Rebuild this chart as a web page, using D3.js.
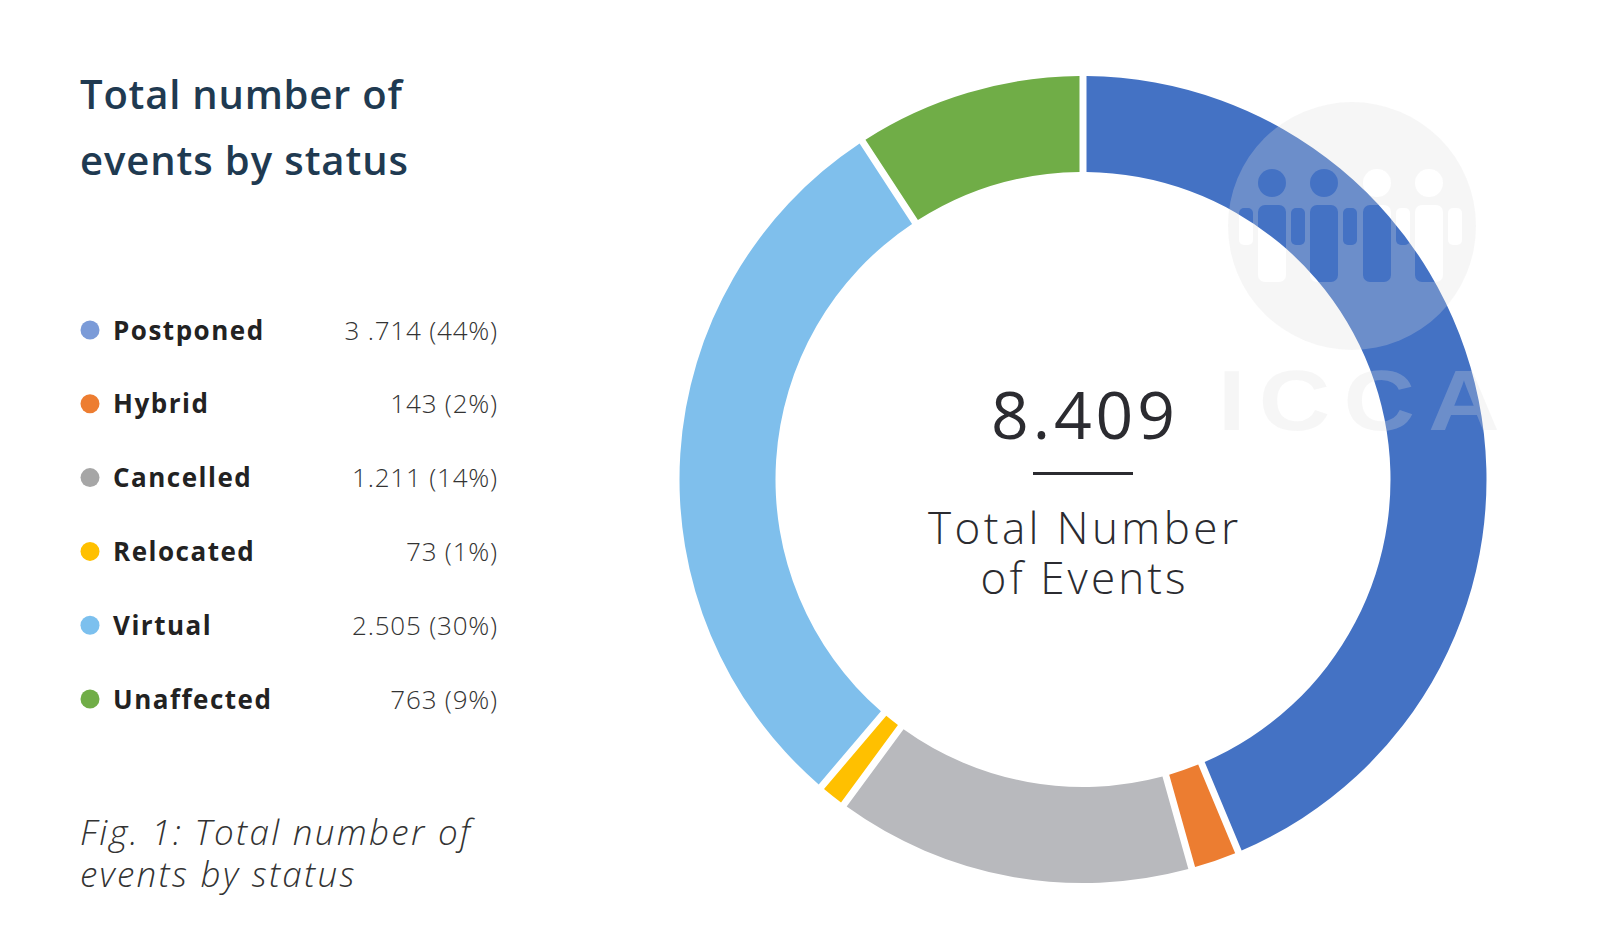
<!DOCTYPE html>
<html>
<head>
<meta charset="utf-8">
<script src="https://cdn.jsdelivr.net/npm/d3@7"></script>
<style>
  html, body { margin: 0; padding: 0; background: #ffffff; }
  svg { display: block; font-family: "Open Sans", "Noto Sans", sans-serif; }
</style>
</head>
<body>
<svg id="chart" width="1600" height="946"></svg>
<script>
// ---- data ----
const categories = ["Postponed", "Hybrid", "Cancelled", "Relocated", "Virtual", "Unaffected"];
const values = [3714, 143, 1211, 73, 2505, 763];
const valueLabels = ["3 .714 (44%)", "143 (2%)", "1.211 (14%)", "73 (1%)", "2.505 (30%)", "763 (9%)"];
const ringColors = ["#4472c4", "#ec7d31", "#b8b9bd", "#ffc000", "#7fbfec", "#70ad47"];
const dotColors = ["#7b9bd8", "#ed7d31", "#a6a6a6", "#ffc000", "#7cc0ee", "#70ad47"];
const titleLines = ["Total number of", "events by status"];
const captionLines = ["Fig. 1: Total number of", "events by status"];
const centerLabelLines = ["Total Number", "of Events"];

const svg = d3.select("#chart");

// ---- title ----
svg.append("g").selectAll("text").data(titleLines).join("text")
  .attr("x", 80)
  .attr("y", (d, i) => 109 + i * 66)
  .attr("font-size", 40)
  .attr("font-weight", 600)
  .attr("fill", "#1f3a51")
  .attr("textLength", (d, i) => i === 0 ? 322 : 328)
  .attr("lengthAdjust", "spacing")
  .text(d => d);

// ---- legend ----
const yLegend = d3.scalePoint().domain(categories).range([330, 699]);
const legend = svg.append("g").selectAll("g").data(categories).join("g")
  .attr("transform", d => `translate(0,${yLegend(d)})`);
legend.append("circle")
  .attr("cx", 90).attr("cy", 0).attr("r", 9.5)
  .attr("fill", (d, i) => dotColors[i]);
legend.append("text")
  .attr("x", 113).attr("y", 9.5)
  .attr("font-size", 26).attr("font-weight", 700).attr("fill", "#222222")
  .attr("letter-spacing", 1.5)
  .text(d => d);
legend.append("text")
  .attr("x", 498).attr("y", 9.5)
  .attr("text-anchor", "end")
  .attr("font-size", 26).attr("font-weight", 300).attr("fill", "#333333")
  .attr("letter-spacing", 0.8)
  .text((d, i) => valueLabels[i]);

// ---- caption ----
svg.append("g").selectAll("text").data(captionLines).join("text")
  .attr("x", 80)
  .attr("y", (d, i) => 845 + i * 42)
  .attr("font-size", 35)
  .attr("font-weight", 300)
  .attr("font-style", "italic")
  .attr("fill", "#333333")
  .attr("letter-spacing", 2.3)
  .text(d => d);

// ---- donut ----
const cx = 1083, cy = 479.5;
const rOuter = 403.5, rInner = 307.5;
const pie = d3.pie().sort(null).value(d => d).padAngle(7 / 400);
const arc = d3.arc().innerRadius(rInner).outerRadius(rOuter).padRadius(400);
const donut = svg.append("g").attr("transform", `translate(${cx},${cy})`);
donut.selectAll("path").data(pie(values)).join("path")
  .attr("d", arc)
  .attr("fill", (d, i) => ringColors[i]);

// ---- center label ----
const total = d3.sum(values);
const fmt = d3.format(",");
const center = svg.append("g").attr("transform", `translate(${cx},0)`);
center.append("text")
  .attr("x", 0).attr("y", 439)
  .attr("text-anchor", "middle")
  .attr("font-size", 66).attr("font-weight", 400).attr("fill", "#2b2b30")
  .attr("textLength", 184).attr("lengthAdjust", "spacing")
  .text(fmt(total).replace(/,/g, "."));
center.append("line")
  .attr("x1", -50).attr("x2", 50)
  .attr("y1", 473.5).attr("y2", 473.5)
  .attr("stroke", "#2b2b30").attr("stroke-width", 3);
center.selectAll("text.sub").data(centerLabelLines).join("text")
  .attr("class", "sub")
  .attr("x", 0).attr("y", (d, i) => 544 + i * 50)
  .attr("text-anchor", "middle")
  .attr("font-size", 44).attr("font-weight", 300).attr("fill", "#2b2b30")
  .attr("textLength", (d, i) => i === 0 ? 310 : 205).attr("lengthAdjust", "spacing")
  .text(d => d);

// ---- watermark (ICCA logo) ----
const defs = svg.append("defs");
const mask = defs.append("mask").attr("id", "logoMask");
mask.append("rect").attr("x", 1200).attr("y", 80).attr("width", 320).attr("height", 300).attr("fill", "#fff");
const heads = [1272, 1324, 1377, 1429];
const arms = [1246, 1298, 1350, 1403, 1455];
mask.selectAll("circle.h").data(heads).join("circle")
  .attr("class", "h").attr("cx", d => d).attr("cy", 183).attr("r", 14).attr("fill", "#000");
mask.selectAll("rect.b").data(heads).join("rect")
  .attr("class", "b").attr("x", d => d - 14).attr("y", 205).attr("width", 28).attr("height", 77)
  .attr("rx", 7).attr("fill", "#000");
mask.selectAll("rect.a").data(arms).join("rect")
  .attr("class", "a").attr("x", d => d - 7).attr("y", 208).attr("width", 14).attr("height", 37)
  .attr("rx", 5).attr("fill", "#000");

const wm = svg.append("g").attr("opacity", 0.26);
wm.append("circle")
  .attr("cx", 1352).attr("cy", 226).attr("r", 124)
  .attr("fill", "#dedede")
  .attr("mask", "url(#logoMask)");
wm.append("text")
  .attr("transform", "translate(1218,430) scale(1.15,1)")
  .attr("x", 0).attr("y", 0)
  .attr("font-family", "'Liberation Sans', Arial, sans-serif")
  .attr("font-size", 86).attr("font-weight", 700)
  .attr("fill", "#dedede")
  .attr("textLength", 245).attr("lengthAdjust", "spacing")
  .text("ICCA");
</script>
</body>
</html>
